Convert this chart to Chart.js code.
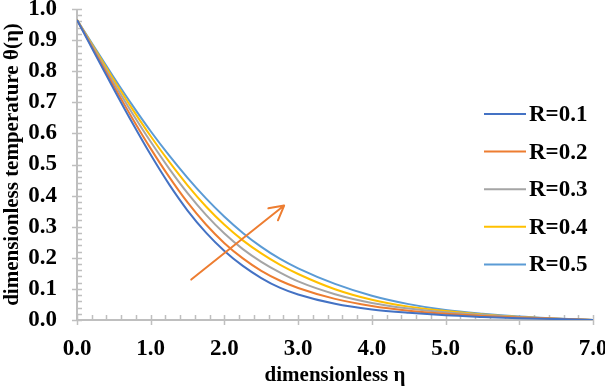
<!DOCTYPE html>
<html>
<head>
<meta charset="utf-8">
<script src="https://cdn.jsdelivr.net/npm/chart.js@4.4.1/dist/chart.umd.min.js"></script>
<style>
    html, body { margin: 0; padding: 0; background: #fff; }
    #wrap { width: 605px; height: 388px; }
</style>
</head>
<body>
<div id="wrap"><canvas id="tempChart" width="605" height="388"></canvas></div>
<script>
// Values
const eta = [0, 0.25, 0.5, 0.75, 1.0, 1.25, 1.5, 1.75, 2.0, 2.25, 2.5, 2.75, 3.0, 3.5, 4.0, 4.5, 5.0, 5.5, 6.0, 6.5, 7.0];
const thetaR1 = [0.965, 0.853, 0.742, 0.634, 0.531, 0.436, 0.352, 0.281, 0.222, 0.174, 0.135, 0.104, 0.082, 0.052, 0.034, 0.023, 0.015, 0.010, 0.006, 0.003, 0.0];
const thetaR2 = [0.965, 0.858, 0.752, 0.649, 0.551, 0.460, 0.378, 0.307, 0.247, 0.198, 0.158, 0.127, 0.103, 0.068, 0.045, 0.030, 0.020, 0.013, 0.008, 0.004, 0.0];
const thetaR3 = [0.965, 0.863, 0.762, 0.665, 0.573, 0.487, 0.408, 0.338, 0.278, 0.228, 0.187, 0.153, 0.124, 0.083, 0.055, 0.037, 0.025, 0.016, 0.009, 0.004, 0.0];
const thetaR4 = [0.965, 0.868, 0.772, 0.679, 0.591, 0.509, 0.433, 0.365, 0.306, 0.256, 0.214, 0.178, 0.148, 0.099, 0.065, 0.043, 0.029, 0.018, 0.010, 0.004, 0.0];
const thetaR5 = [0.965, 0.872, 0.780, 0.691, 0.607, 0.529, 0.457, 0.391, 0.332, 0.280, 0.235, 0.197, 0.166, 0.116, 0.078, 0.051, 0.032, 0.020, 0.011, 0.005, 0.0];

const seriesLabels = ['R=0.1', 'R=0.2', 'R=0.3', 'R=0.4', 'R=0.5'];
const seriesColors = ['#4472C4', '#ED7D31', '#A5A5A5', '#FFC000', '#5B9BD5'];
const seriesValues = [thetaR1, thetaR2, thetaR3, thetaR4, thetaR5];

// arrow showing increasing R (data coords: eta, theta)
const arrowFrom = [1.55, 0.13];
const arrowTo = [2.81, 0.368];

const AXIS_GRAY = '#BFBFBF';
const SERIF = "'Liberation Serif', 'Times New Roman', serif";

// axis lines with crossing major ticks and inward minor ticks
const axisDecor = {
    id: 'axisDecor',
    beforeDatasetsDraw(chart) {
        const { ctx, chartArea: a, scales: { x, y } } = chart;
        ctx.save();
        ctx.strokeStyle = AXIS_GRAY;
        ctx.lineWidth = 2;
        ctx.beginPath();
        ctx.moveTo(a.left, a.top);
        ctx.lineTo(a.left, a.bottom);
        ctx.lineTo(a.right, a.bottom);
        ctx.stroke();

        ctx.lineWidth = 1.5;
        ctx.beginPath();
        for (let i = 0; i <= 50; i++) {
            const py = Math.round(y.getPixelForValue(i * 0.02)) + 0.5;
            const major = i % 5 === 0;
            ctx.moveTo(a.left - (major ? 5 : 0), py);
            ctx.lineTo(a.left + 5, py);
        }
        for (let i = 0; i <= 35; i++) {
            const px = Math.round(x.getPixelForValue(i * 0.2)) + 0.5;
            const major = i % 5 === 0;
            ctx.moveTo(px, a.bottom + (major ? 5 : 0));
            ctx.lineTo(px, a.bottom - 5);
        }
        ctx.stroke();
        ctx.restore();
    }
};

const arrowMark = {
    id: 'arrowMark',
    afterDatasetsDraw(chart) {
        const { ctx, scales: { x, y } } = chart;
        const x0 = x.getPixelForValue(arrowFrom[0]), y0 = y.getPixelForValue(arrowFrom[1]);
        const x1 = x.getPixelForValue(arrowTo[0]), y1 = y.getPixelForValue(arrowTo[1]);
        const ang = Math.atan2(y1 - y0, x1 - x0);
        const head = 16, spread = 0.5;
        ctx.save();
        ctx.strokeStyle = '#ED7D31';
        ctx.lineWidth = 2;
        ctx.lineCap = 'round';
        ctx.lineJoin = 'round';
        ctx.beginPath();
        ctx.moveTo(x0, y0);
        ctx.lineTo(x1, y1);
        ctx.moveTo(x1 - head * Math.cos(ang - spread), y1 - head * Math.sin(ang - spread));
        ctx.lineTo(x1, y1);
        ctx.lineTo(x1 - head * Math.cos(ang + spread), y1 - head * Math.sin(ang + spread));
        ctx.stroke();
        ctx.restore();
    }
};

// legend sitting inside the plot, right side
const sideLegend = {
    id: 'sideLegend',
    afterDraw(chart) {
        const { ctx } = chart;
        const lineX0 = 484, lineX1 = 526, textX = 529, top = 114, gap = 37.6;
        ctx.save();
        ctx.font = `bold 23px ${SERIF}`;
        ctx.textBaseline = 'middle';
        ctx.fillStyle = '#000';
        chart.data.datasets.forEach((ds, i) => {
            const yy = top + i * gap;
            ctx.strokeStyle = ds.borderColor;
            ctx.lineWidth = 2;
            ctx.beginPath();
            ctx.moveTo(lineX0, yy);
            ctx.lineTo(lineX1, yy);
            ctx.stroke();
            ctx.fillText(ds.label, textX, yy + 1);
        });
        ctx.restore();
    }
};

const tickFont = { family: SERIF, size: 23, weight: 'bold' };
const titleFont = { family: SERIF, size: 21, weight: 'bold' };

new Chart(document.getElementById('tempChart'), {
    type: 'line',
    data: {
        datasets: seriesValues.map((vals, i) => ({
            label: seriesLabels[i],
            data: vals.map((v, j) => ({ x: eta[j], y: v })),
            borderColor: seriesColors[i],
            backgroundColor: seriesColors[i],
            borderWidth: 2,
            pointRadius: 0,
            fill: false,
            cubicInterpolationMode: 'monotone'
        }))
    },
    options: {
        responsive: false,
        animation: false,
        devicePixelRatio: 1,
        layout: { padding: { left: 0, right: 12, top: 9, bottom: 0 } },
        plugins: { legend: { display: false }, tooltip: { enabled: false } },
        scales: {
            x: {
                type: 'linear',
                min: 0,
                max: 7,
                border: { display: false },
                grid: { display: false, drawTicks: false },
                ticks: { stepSize: 1, padding: 15, color: '#000', font: tickFont, maxRotation: 0, autoSkip: false, callback: v => v.toFixed(1) },
                title: { display: true, text: 'dimensionless η', color: '#000', font: titleFont, padding: 0 },
                afterFit: s => { s.height = 68; s.paddingLeft = 0; s.paddingRight = 0; }
            },
            y: {
                min: 0,
                max: 1,
                border: { display: false },
                grid: { display: false, drawTicks: false },
                ticks: { stepSize: 0.1, padding: 20, color: '#000', font: tickFont, callback: v => v.toFixed(1) },
                title: { display: true, text: 'dimensionless temperature θ(η)', color: '#000', font: titleFont, padding: 0 },
                afterFit: s => { s.width = 77; s.paddingTop = 0; s.paddingBottom = 0; }
            }
        }
    },
    plugins: [axisDecor, arrowMark, sideLegend]
});
</script>
</body>
</html>
